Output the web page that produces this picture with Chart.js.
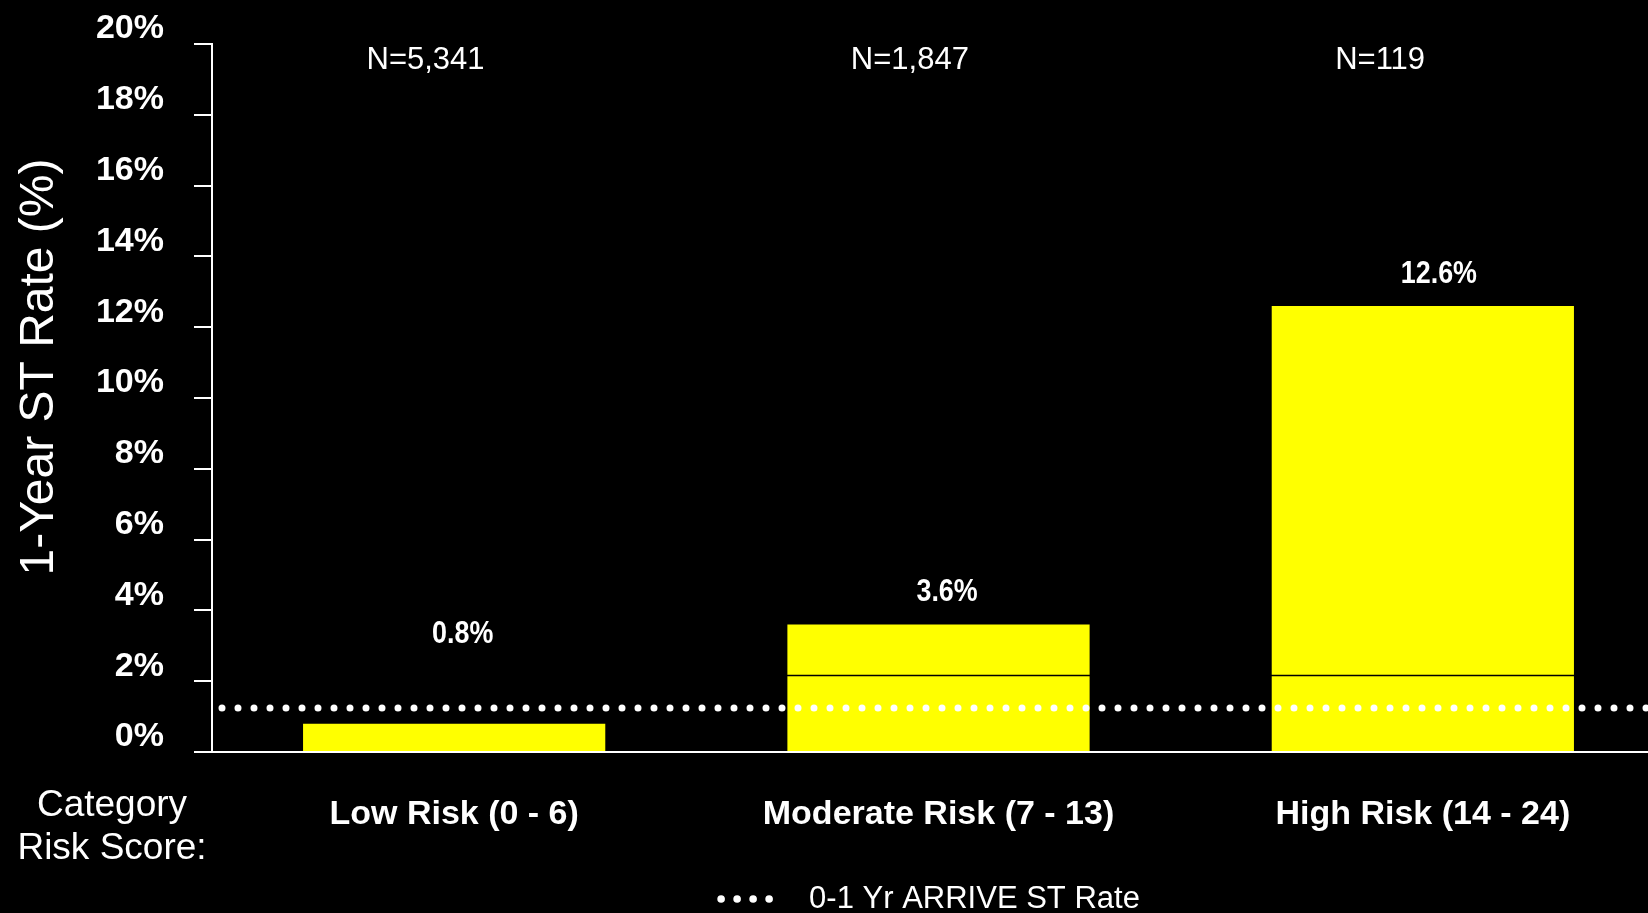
<!DOCTYPE html>
<html>
<head>
<meta charset="utf-8">
<title>1-Year ST Rate by Category Risk Score</title>
<script src="https://cdn.jsdelivr.net/npm/chart.js@4.4.1/dist/chart.umd.min.js"></script>
<style>
  html, body { margin: 0; padding: 0; background: #000; overflow: hidden; }
  #wrap { position: absolute; left: 0; top: 0; width: 1665px; height: 913px; }
</style>
</head>
<body>
<div id="wrap"><canvas id="stChart" width="1665" height="913"></canvas></div>
<script>
// データ
const categories = ["Low Risk (0 - 6)", "Moderate Risk (7 - 13)", "High Risk (14 - 24)"];
const stRates = [0.8, 3.6, 12.6];
const sampleSizes = ["N=5,341", "N=1,847", "N=119"];
const yTickValues = [0, 2, 4, 6, 8, 10, 12, 14, 16, 18, 20];
const arriveRate = 1.24;      // 0-1 Yr ARRIVE ST Rate (点線)
const innerLineRate = 2.17;   // バーを横切る細い黒線

const SANS = "'Liberation Sans', Arial, sans-serif";

// 点線・ラベル・凡例などを描くプラグイン
const overlayPlugin = {
  id: "overlay",
  afterDatasetsDraw(chart) {
    const { ctx, chartArea, scales: { y } } = chart;
    const meta = chart.getDatasetMeta(0);

    ctx.save();
    // 細い黒線
    const yInner = Math.round(y.getPixelForValue(innerLineRate)) + 0.5;
    ctx.strokeStyle = "#000";
    ctx.lineWidth = 1.5;
    ctx.beginPath();
    ctx.moveTo(chartArea.left + 2, yInner);
    ctx.lineTo(chartArea.right, yInner);
    ctx.stroke();

    // ARRIVE の点線
    const yRef = y.getPixelForValue(arriveRate);
    ctx.strokeStyle = "#fff";
    ctx.lineWidth = 7;
    ctx.lineCap = "round";
    ctx.setLineDash([0, 16]);
    ctx.beginPath();
    ctx.moveTo(chartArea.left + 10, yRef);
    ctx.lineTo(chartArea.right, yRef);
    ctx.stroke();
    ctx.setLineDash([]);

    // 値ラベルと N
    ctx.fillStyle = "#fff";
    ctx.textAlign = "left";
    ctx.textBaseline = "middle";
    meta.data.forEach((bar, i) => {
      const left = bar.x - bar.width / 2;
      // 値ラベル(横方向に詰めて細字体風に)
      ctx.save();
      ctx.translate(left + bar.width * 0.427, Math.min(bar.y - 32, yInner - 41));
      ctx.scale(0.84, 1);
      ctx.font = `bold 32px ${SANS}`;
      ctx.fillText(stRates[i].toFixed(1) + "%", 0, 0);
      ctx.restore();
      ctx.font = `31px ${SANS}`;
      ctx.fillText(sampleSizes[i], left + bar.width * 0.21, chartArea.top + 16);
    });
    ctx.restore();
  },
  afterDraw(chart) {
    const { ctx, chartArea } = chart;
    ctx.save();
    ctx.fillStyle = "#fff";
    ctx.textBaseline = "middle";

    // 縦軸タイトル
    ctx.save();
    ctx.translate(40, 367);
    ctx.rotate(-Math.PI / 2);
    ctx.textAlign = "center";
    ctx.font = `48px ${SANS}`;
    ctx.fillText("1-Year ST Rate (%)", 0, 0);
    ctx.restore();

    // 左下の見出し
    ctx.textAlign = "center";
    ctx.font = `37px ${SANS}`;
    ctx.fillText("Category", 112, 806);
    ctx.fillText("Risk Score:", 112, 849);

    // 凡例
    ctx.font = `31px ${SANS}`;
    const label = "0-1 Yr ARRIVE ST Rate";
    const textW = ctx.measureText(label).width;
    const dotsW = 56, gap = 36;
    const startX = (chartArea.left + chartArea.right) / 2 - 10 - (dotsW + gap + textW) / 2;
    const ly = 899;
    for (let k = 0; k < 4; k++) {
      ctx.beginPath();
      ctx.arc(startX + 4 + k * 16, ly, 3.8, 0, Math.PI * 2);
      ctx.fill();
    }
    ctx.textAlign = "left";
    ctx.fillText(label, startX + dotsW + gap, ly);
    ctx.restore();
  }
};

const chart = new Chart(document.getElementById("stChart"), {
  type: "bar",
  data: {
    labels: categories,
    datasets: [{
      label: "1-Year ST Rate",
      data: stRates,
      backgroundColor: "#ffff00",
      borderWidth: 0,
      barPercentage: 0.624,
      categoryPercentage: 1
    }]
  },
  options: {
    responsive: false,
    animation: false,
    layout: { padding: { top: 44, right: 0, bottom: 0, left: 0 } },
    plugins: {
      legend: { display: false },
      tooltip: { enabled: false }
    },
    scales: {
      x: {
        grid: { display: true, drawOnChartArea: false, drawTicks: false },
        border: { display: true, color: "#fff", width: 2 },
        ticks: {
          color: "#fff",
          padding: 42,
          font: { family: SANS, size: 34, weight: "bold" }
        },
        afterFit(scale) { scale.height = 161; }
      },
      y: {
        min: 0,
        max: 20,
        afterBuildTicks(scale) { scale.ticks = yTickValues.map(v => ({ value: v })); },
        grid: { drawOnChartArea: false, drawTicks: true, tickLength: 18, color: "#fff", lineWidth: 2 },
        border: { display: true, color: "#fff", width: 2 },
        ticks: {
          color: "#fff",
          padding: 30,
          labelOffset: -15,
          font: { family: SANS, size: 34, weight: "bold" },
          callback: v => v + "%"
        },
        afterFit(scale) {
          scale.width = 212;
          scale.paddingTop = 0;
          scale.paddingBottom = 0;
        }
      }
    }
  },
  plugins: [overlayPlugin]
});
</script>
</body>
</html>
